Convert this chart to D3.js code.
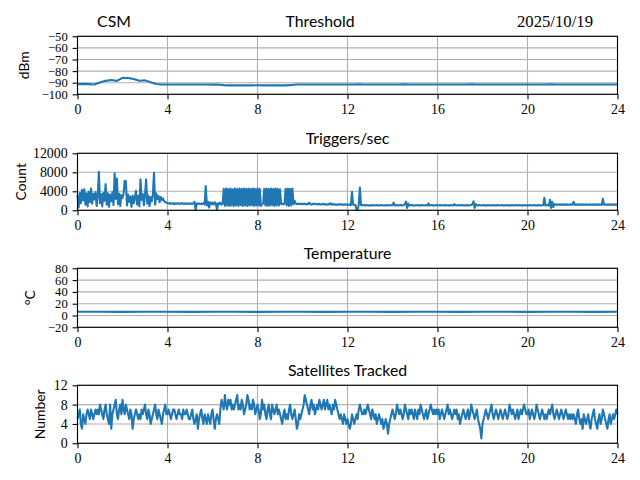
<!DOCTYPE html>
<html>
<head>
<meta charset="utf-8">
<script src="https://cdn.jsdelivr.net/npm/d3@7"></script>
<style>
  body { margin: 0; background: #fff; }
  .lbl { font-family: "Lato", sans-serif; fill: #000; }
</style>
</head>
<body>
<div id="chart"></div>
<script>
(function() {

// x axis (hours of the day)
var hourTicks = [0, 4, 8, 12, 16, 20, 24];

// Threshold, dBm, every 0.25 h
var thresholdStep = 0.25;
var thresholdValues = [
    -91.4, -91.0, -91.2, -91.5, -89.8, -88.4, -87.6, -88.4, -85.8, -86.0, -86.8, -88.3,
    -88.0, -89.7, -91.1, -91.6, -91.6, -91.5, -91.6, -91.5, -91.6, -91.6, -91.5, -91.6,
    -91.7, -91.5, -92.1, -92.3, -92.2, -92.3, -92.2, -92.3, -92.2, -92.3, -92.2, -92.3,
    -92.2, -92.3, -92.0, -91.6, -91.5, -91.6, -91.5, -91.6, -91.5, -91.6, -91.5, -91.5,
    -91.6, -91.5, -91.3, -91.5, -91.6, -91.5, -91.6, -91.5, -91.5, -91.6, -91.3, -91.5,
    -91.6, -91.5, -91.6, -91.5, -91.5, -91.6, -91.5, -91.6, -91.5, -91.5, -91.3, -91.5,
    -91.6, -91.5, -91.6, -91.5, -91.5, -91.6, -91.5, -91.6, -91.5, -91.5, -91.6, -91.5,
    -91.3, -91.5, -91.6, -91.5, -91.5, -91.6, -91.5, -91.6, -91.5, -91.5, -91.6, -91.5,
    -91.5
];
var thresholdTicks = [-50, -60, -70, -80, -90, -100];

// Triggers/sec, count, every 0.05 h (one row per hour)
var triggerStep = 0.05;
var triggerValues = [
    3200, 600, 3700, 1500, 4300, 2100, 4400, 1200, 3600, 800, 3900, 1700, 4600, 1400, 3500, 2300, 3800, 900, 3100, 8100,
    1500, 3400, 800, 3700, 2000, 5500, 1200, 3600, 700, 3300, 1900, 3800, 1100, 7800, 2400, 6700, 1300, 3500, 900, 3200,
    2600, 3600, 6200, 6100, 1000, 3300, 1800, 2900, 700, 3100, 1500, 2700, 4100, 1200, 3000, 800, 6500, 2200, 3400, 1100,
    3200, 6500, 1400, 3100, 900, 2800, 1900, 3300, 7900, 1200, 3600, 2400, 3000, 1700, 2800, 2200, 2500, 1900, 1800, 1600,
    1500, 1400, 1550, 1350, 1450, 1500, 1300, 1450, 1400, 1500, 1350, 1450, 1400, 1500, 1350, 1450, 1400, 1350, 1450, 1400,
    1400, 1450, 1350, 1500, 1800, 100, 1400, 1350, 1450, 1300, 1400, 1350, 1500, 1200, 5100, 1000, 1800, 600, 1700, 1300,
    1600, 1200, 1700, 1400, 100, 1500, 1300, 1600, 1200, 1400, 4500, 900, 4600, 1000, 4500, 900, 4600, 1000, 4400, 900,
    4600, 1000, 4500, 900, 4600, 1100, 4500, 900, 4600, 1000, 4500, 900, 4600, 1000, 4500, 1100, 4600, 900, 4500, 1000,
    4600, 1000, 4500, 900, 1300, 1400, 4500, 1000, 4600, 900, 4500, 1000, 4600, 1100, 4500, 900, 4600, 1000, 4500, 1000,
    4400, 1300, 1400, 1250, 1350, 4500, 1000, 4600, 900, 4500, 1000, 4600, 1300, 2000, 1400, 1300, 1400, 1350, 1300, 1400,
    1350, 1300, 1400, 1250, 1350, 1300, 1600, 1300, 1250, 1350, 1300, 1400, 1300, 1250, 1350, 1300, 1200, 1300, 1350, 1250,
    1300, 1250, 1200, 1300, 1250, 1500, 1200, 1250, 1300, 1200, 1150, 1250, 1200, 1300, 1200, 1250, 1150, 1200, 1250, 1200,
    1200, 1150, 1250, 1100, 3900, 1200, 1100, 1150, 100, 0, 1200, 4800, 1100, 1050, 1100, 1050, 1000, 1100, 1050, 1000,
    1050, 1000, 1100, 1050, 1000, 1050, 1100, 1000, 1050, 1000, 1100, 1050, 1000, 1050, 1000, 1100, 1050, 1000, 1050, 1100,
    1050, 1600, 1000, 1050, 1100, 1000, 1050, 1100, 1000, 1050, 1100, 1300, 1800, 500, 1400, 1000, 1050, 1100, 1000, 1050,
    1000, 1050, 1100, 1000, 1050, 1000, 1100, 1050, 1000, 1050, 1100, 1000, 1450, 1000, 1050, 1100, 1000, 1050, 1000, 1100,
    1050, 1000, 1050, 1100, 1000, 1050, 1000, 1100, 1050, 1000, 1050, 1000, 1100, 1050, 1000, 1300, 1050, 1000, 1050, 1100,
    1000, 1050, 1100, 1000, 1050, 1000, 1100, 1050, 1000, 1050, 1100, 1300, 1900, 500, 1300, 1050, 1000, 1100, 1050, 1000,
    1050, 1100, 1000, 1050, 1000, 1100, 1050, 1000, 1050, 1100, 1000, 1050, 1000, 1100, 1050, 1000, 1050, 1100, 1000, 1050,
    1000, 1050, 1100, 1000, 1050, 1000, 1100, 1050, 1000, 1050, 1100, 1000, 1050, 1100, 1000, 1050, 1000, 1100, 1050, 1000,
    1050, 1000, 1100, 1050, 1000, 1050, 1100, 1000, 1050, 1000, 1100, 1050, 1000, 1050, 1100, 2650, 1000, 1050, 1100, 1000,
    2200, 500, 1800, 700, 1300, 1200, 1250, 1150, 1200, 1250, 1200, 1150, 1250, 1200, 1150, 1250, 1200, 1150, 1250, 1200,
    1200, 1800, 1150, 1250, 1200, 1150, 1250, 1200, 1150, 1250, 1200, 1150, 1250, 1200, 1150, 1250, 1200, 1150, 1250, 1200,
    1150, 1250, 1200, 1150, 1250, 1200, 1150, 2400, 1200, 1250, 1150, 1200, 1250, 1150, 1200, 1250, 1150, 1200, 1250, 1200,
    1200
];
var triggerTicks = [0, 4000, 8000, 12000];

// Temperature, degC, hourly
var temperatureStep = 1;
var temperatureValues = [6.3, 6.3, 6.2, 6.3, 6.3, 6.2, 6.3, 6.3, 6.2, 6.3, 6.3, 6.2, 6.3,
                         6.3, 6.2, 6.3, 6.3, 6.2, 6.3, 6.3, 6.2, 6.3, 6.3, 6.2, 6.3];
var temperatureTicks = [-20, 0, 20, 40, 60, 80];

// Satellites tracked, every 0.05 h (one row per hour)
var satelliteStep = 0.05;
var satelliteValues = [
    5, 6, 7, 4, 3, 6, 5, 4, 6, 7, 6, 5, 7, 6, 5, 6, 7, 6, 7, 6,
    8, 7, 6, 5, 7, 8, 6, 5, 4, 8, 3, 6, 7, 8, 9, 6, 5, 7, 8, 6,
    9, 7, 6, 8, 7, 6, 5, 7, 6, 3, 5, 6, 7, 6, 5, 6, 5, 7, 6, 7,
    8, 6, 5, 7, 6, 4, 5, 6, 7, 8, 6, 5, 7, 6, 5, 4, 6, 7, 8, 6,
    6, 7, 6, 5, 6, 7, 7, 6, 5, 6, 7, 6, 6, 5, 7, 6, 6, 7, 6, 5,
    5, 6, 7, 5, 4, 5, 6, 3, 5, 6, 7, 5, 4, 6, 5, 4, 6, 5, 4, 6,
    7, 5, 3, 5, 6, 5, 4, 7, 9, 8, 7, 10, 8, 7, 9, 8, 9, 7, 8, 7,
    8, 9, 10, 7, 8, 7, 9, 8, 6, 7, 8, 10, 9, 7, 8, 7, 9, 8, 6, 7,
    8, 7, 5, 6, 9, 7, 8, 6, 5, 7, 8, 6, 5, 8, 7, 6, 7, 8, 6, 7,
    6, 5, 4, 6, 7, 5, 6, 5, 7, 8, 6, 5, 6, 7, 5, 3, 4, 6, 5, 6,
    7, 8, 10, 9, 8, 7, 6, 8, 9, 7, 8, 6, 7, 8, 7, 9, 8, 7, 8, 9,
    7, 8, 9, 7, 8, 7, 6, 8, 7, 9, 8, 7, 6, 5, 6, 5, 4, 6, 5, 4,
    5, 4, 3, 4, 6, 5, 4, 5, 6, 5, 7, 8, 7, 6, 6, 7, 6, 7, 8, 7,
    6, 5, 7, 6, 5, 6, 4, 5, 6, 5, 4, 5, 3, 4, 5, 4, 2, 4, 5, 6,
    7, 6, 5, 6, 8, 7, 6, 7, 6, 5, 6, 8, 7, 6, 5, 7, 6, 7, 6, 5,
    7, 6, 5, 7, 6, 8, 7, 6, 5, 6, 7, 5, 6, 7, 8, 7, 6, 7, 6, 7,
    6, 7, 5, 6, 7, 6, 5, 6, 7, 8, 6, 7, 6, 5, 6, 7, 6, 7, 5, 6,
    4, 5, 6, 7, 6, 5, 6, 7, 5, 6, 8, 7, 6, 5, 6, 7, 5, 4, 3, 1,
    4, 5, 6, 7, 6, 5, 6, 7, 8, 6, 5, 6, 7, 6, 5, 6, 7, 6, 5, 6,
    7, 6, 5, 6, 8, 7, 6, 7, 6, 5, 6, 7, 5, 6, 7, 6, 7, 8, 7, 6,
    6, 7, 5, 6, 7, 6, 5, 6, 8, 7, 6, 5, 6, 7, 6, 5, 6, 5, 6, 7,
    6, 7, 8, 6, 5, 6, 7, 6, 5, 6, 7, 6, 5, 6, 7, 6, 5, 6, 5, 6,
    5, 6, 5, 4, 6, 7, 5, 4, 5, 3, 6, 5, 4, 5, 6, 4, 3, 5, 6, 7,
    5, 4, 3, 5, 6, 4, 5, 7, 6, 5, 4, 3, 5, 6, 4, 5, 6, 5, 6, 7,
    6
];
var satelliteTicks = [0, 4, 8, 12];

var width = 640, height = 480;
var left = 77.5, right = 617.5;
var lineColor = "#1f77b4";
var serif = "'Liberation Serif', 'DejaVu Serif', serif";

var svg = d3.select("#chart")
    .append("svg")
    .attr("width", width)
    .attr("height", height);

var x = d3.scaleLinear().domain([0, 24]).range([left, right]);

function fmt(d) {
    return d < 0 ? "\u2212" + (-d) : String(d);
}

function toPoints(values, step) {
    return values.map(function(v, i) { return [i * step, v]; });
}

function drawPanel(cfg) {
    var y = d3.scaleLinear()
        .domain(d3.extent(cfg.ticks))
        .range([cfg.bottom, cfg.top]);

    var g = svg.append("g");

    // grid
    g.selectAll(".vgrid")
        .data(hourTicks)
        .join("line")
        .attr("x1", d => x(d)).attr("x2", d => x(d))
        .attr("y1", cfg.top).attr("y2", cfg.bottom)
        .attr("stroke", "#b0b0b0").attr("stroke-width", 1.1);
    g.selectAll(".hgrid")
        .data(cfg.ticks)
        .join("line")
        .attr("x1", left).attr("x2", right)
        .attr("y1", d => y(d)).attr("y2", d => y(d))
        .attr("stroke", "#b0b0b0").attr("stroke-width", 1.1);

    // data line
    var line = d3.line()
        .x(d => x(d[0]))
        .y(d => y(d[1]));
    g.append("path")
        .datum(toPoints(cfg.values, cfg.step))
        .attr("d", line)
        .attr("fill", "none")
        .attr("stroke", lineColor)
        .attr("stroke-width", 2.1)
        .attr("stroke-linejoin", "round");

    // frame
    g.append("rect")
        .attr("x", left).attr("y", cfg.top)
        .attr("width", right - left).attr("height", cfg.bottom - cfg.top)
        .attr("fill", "none").attr("stroke", "#000").attr("stroke-width", 1.1);

    var xAxis = g.append("g")
        .attr("transform", "translate(0," + cfg.bottom + ")")
        .call(d3.axisBottom(x).tickValues(hourTicks).tickFormat(fmt)
            .tickSizeInner(4.9).tickSizeOuter(0).tickPadding(4.9));
    var yAxis = g.append("g")
        .attr("transform", "translate(" + left + ",0)")
        .call(d3.axisLeft(y).tickValues(cfg.ticks).tickFormat(fmt)
            .tickSizeInner(4.9).tickSizeOuter(0).tickPadding(4.9));
    [xAxis, yAxis].forEach(function(a) {
        a.select(".domain").remove();
        a.selectAll(".tick line").attr("stroke", "#000").attr("stroke-width", 1.1);
        a.attr("font-family", null).attr("font-size", null);
        a.selectAll(".tick text")
            .attr("fill", "#000")
            .style("font-family", serif)
            .style("font-size", "13.9px");
    });
    if (cfg.tightTicks) {
        yAxis.selectAll(".tick text").style("font-size", "12.6px");
    }

    // y label
    g.append("text")
        .attr("class", "lbl")
        .attr("transform", "translate(" + cfg.labelX + "," + ((cfg.top + cfg.bottom) / 2) + ") rotate(-90)")
        .attr("text-anchor", "middle")
        .style("font-size", "13.9px")
        .text(cfg.label);

    if (cfg.title) {
        g.append("text")
            .attr("class", "lbl")
            .attr("x", (left + right) / 2)
            .attr("y", cfg.top - 9.3)
            .attr("text-anchor", "middle")
            .style("font-size", "15.8px")
            .text(cfg.title);
    }
}

drawPanel({top: 36.3, bottom: 94.3, ticks: thresholdTicks, values: thresholdValues,
           step: thresholdStep, label: "dBm", labelX: 29, tightTicks: true});
drawPanel({top: 153.3, bottom: 210.3, ticks: triggerTicks, values: triggerValues,
           step: triggerStep, label: "Count", labelX: 26.3, title: "Triggers/sec"});
drawPanel({top: 268.3, bottom: 327.3, ticks: temperatureTicks, values: temperatureValues,
           step: temperatureStep, label: "\u00b0C", labelX: 35, title: "Temperature", tightTicks: true});
drawPanel({top: 385.3, bottom: 443.3, ticks: satelliteTicks, values: satelliteValues,
           step: satelliteStep, label: "Number", labelX: 45, title: "Satellites Tracked"});

// header row
svg.append("text").attr("class", "lbl")
    .attr("x", 114).attr("y", 27.3).attr("text-anchor", "middle")
    .style("font-size", "15.8px").text("CSM");
svg.append("text").attr("class", "lbl")
    .attr("x", 320).attr("y", 27.3).attr("text-anchor", "middle")
    .style("font-size", "15.8px").text("Threshold");
svg.append("text")
    .attr("x", 555).attr("y", 27.3).attr("text-anchor", "middle")
    .style("font-family", serif)
    .style("font-size", "16.7px").text("2025/10/19");

})();
</script>
</body>
</html>
